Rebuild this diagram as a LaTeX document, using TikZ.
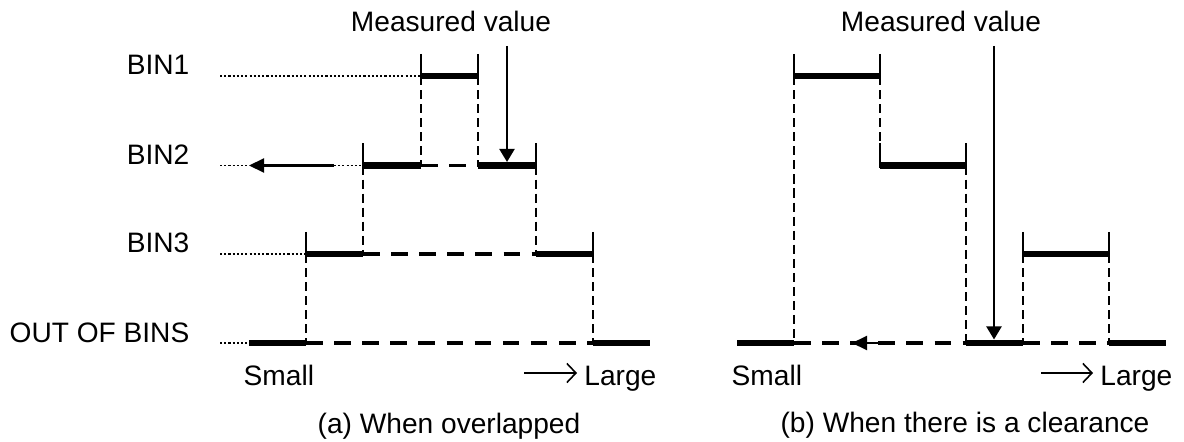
\documentclass[tikz,border=0pt]{standalone}
\usepackage{fontspec}
\setmainfont{Liberation Sans}
\usepackage{tikz}
\usetikzlibrary{calc,arrows.meta}

\begin{document}
\begin{tikzpicture}[x=1cm,y=-1cm,
		font=\fontsize{8pt}{9.6pt}\selectfont,
		txt/.style={inner sep=0pt},
		bar/.style={line width=1.9pt},
		edge/.style={line width=0.5pt},
		leader/.style={line width=0.4pt,dash pattern=on 0.6pt off 0.6pt},
		gapline/.style={line width=1.1pt,dash pattern=on 4.7pt off 3.3pt},
		drop/.style={line width=0.45pt,dash pattern=on 2.6pt off 1.4pt},
		meas/.style={line width=0.6pt,-{Triangle[length=1.3mm,width=1.5mm]}},
		back/.style={line width=0.6pt,-{Triangle[length=1.5mm,width=1.4mm]}},
		dir/.style={line width=0.45pt,-{Straight Barb[length=0.9mm,width=1.9mm]}}]
			\useasboundingbox (0,0) rectangle (11.84,4.42);
			
			% (a) bin limits
			\coordinate (A1l) at (4.21,0.76);
			\coordinate (A1r) at (4.78,0.76);
			\coordinate (A2l) at (3.63,1.655);
			\coordinate (A2r) at (5.36,1.655);
			\coordinate (A3l) at (3.06,2.54);
			\coordinate (A3r) at (5.93,2.54);
			\coordinate (Aol) at (2.49,3.43);
			\coordinate (Aor) at (6.50,3.43);
			\coordinate (lead) at (2.20,0);
			
			% (b) bin limits
			\coordinate (B1l) at (7.94,0.76);
			\coordinate (B1r) at (8.80,0.76);
			\coordinate (B2l) at (8.80,1.655);
			\coordinate (B2r) at (9.66,1.655);
			\coordinate (B3l) at (10.23,2.54);
			\coordinate (B3r) at (11.09,2.54);
			\coordinate (Bol) at (7.37,3.43);
			\coordinate (Bor) at (11.66,3.43);
			
			\node[txt,anchor=base east] (bin1) at (1.90,0.75) {BIN1};
			\node[txt,anchor=base east] (bin2) at (1.90,1.645) {BIN2};
			\node[txt,anchor=base east] (bin3) at (1.90,2.53) {BIN3};
			\node[txt,anchor=base east] (out) at (1.90,3.42) {OUT OF BINS};
			
			\draw[leader] (lead |- A1l)--(A1l);
			\draw[leader] (lead |- A2l)--(A2l);
			\draw[leader] (lead |- A3l)--(A3l);
			\draw[leader] (lead |- Aol)--(Aol);
			
			\draw[bar] (A1l)--(A1r);
			\draw[bar] (A2l)--(A1l |- A2l);
			\draw[gapline] (A1l |- A2l)--(A1r |- A2l);
			\draw[bar] (A1r |- A2l)--(A2r);
			\draw[bar] (A3l)--(A2l |- A3l);
			\draw[gapline] (A2l |- A3l)--(A2r |- A3l);
			\draw[bar] (A2r |- A3l)--(A3r);
			\draw[bar] (Aol)--(A3l |- Aol);
			\draw[gapline] (A3l |- Aol)--(A3r |- Aol);
			\draw[bar] (A3r |- Aol)--(Aor);
			
			\foreach \p in {A1l,A1r,A2l,A2r,A3l,A3r}
			\draw[edge] ($(\p)+(0,-0.22)$)--($(\p)+(0,0.03)$);
			
			\draw[drop] (A1l)--(A1l |- A2l);
			\draw[drop] (A1r)--(A1r |- A2l);
			\draw[drop] (A2l)--(A2l |- A3l);
			\draw[drop] (A2r)--(A2r |- A3l);
			\draw[drop] (A3l)--(A3l |- Aol);
			\draw[drop] (A3r)--(A3r |- Aol);
			
			\coordinate (Ma) at (5.07,0.46);
			\node[txt,anchor=base] (measA) at (4.51,0.32) {Measured value};
			\draw[meas,shorten >=1pt] (Ma)--(Ma |- A2l);
			
			\coordinate (tailA) at (3.34,1.655);
			\coordinate (tipA) at (2.49,1.655);
			\draw[back] (tailA)--(tipA);
			
			\node[txt,anchor=base west] (smallA) at (2.43,3.855) {Small};
			\node[txt,anchor=base east] (largeA) at (6.57,3.855) {Large};
			\coordinate (dirA) at (5.24,3.73);
			\draw[dir] (dirA)--(dirA -| 5.77,0);
			\node[txt,anchor=base] (capA) at (4.49,4.33) {(a) When overlapped};
			
			% (b)
			\draw[bar] (B1l)--(B1r);
			\draw[bar] (B2l)--(B2r);
			\draw[bar] (B3l)--(B3r);
			\draw[bar] (Bol)--(B1l |- Bol);
			\draw[gapline] (B1l |- Bol)--(B2r |- Bol);
			\draw[bar] (B2r |- Bol)--(B3l |- Bol);
			\draw[gapline] (B3l |- Bol)--(B3r |- Bol);
			\draw[bar] (B3r |- Bol)--(Bor);
			
			\foreach \p in {B1l,B1r,B2l,B2r,B3l,B3r}
			\draw[edge] ($(\p)+(0,-0.22)$)--($(\p)+(0,0.03)$);
			
			\draw[drop] (B1l)--(B1l |- Bol);
			\draw[drop] (B1r)--($(B2l)+(0,-0.22)$);
			\draw[drop] (B2r)--(B2r |- Bol);
			\draw[drop] (B3l)--(B3l |- Bol);
			\draw[drop] (B3r)--(B3r |- Bol);
			
			\coordinate (Mb) at (9.94,0.46);
			\node[txt,anchor=base] (measB) at (9.41,0.32) {Measured value};
			\draw[meas,shorten >=1pt] (Mb)--(Mb |- Bol);
			
			\coordinate (tipB) at (8.52,3.43);
			\draw[back] (B1r |- Bol)--(tipB);
			
			\node[txt,anchor=base west] (smallB) at (7.31,3.855) {Small};
			\node[txt,anchor=base east] (largeB) at (11.73,3.855) {Large};
			\coordinate (dirB) at (10.41,3.73);
			\draw[dir] (dirB)--(dirB -| 10.93,0);
			\node[txt,anchor=base] (capB) at (9.65,4.32) {(b) When there is a clearance};
		\end{tikzpicture}
\end{document}
